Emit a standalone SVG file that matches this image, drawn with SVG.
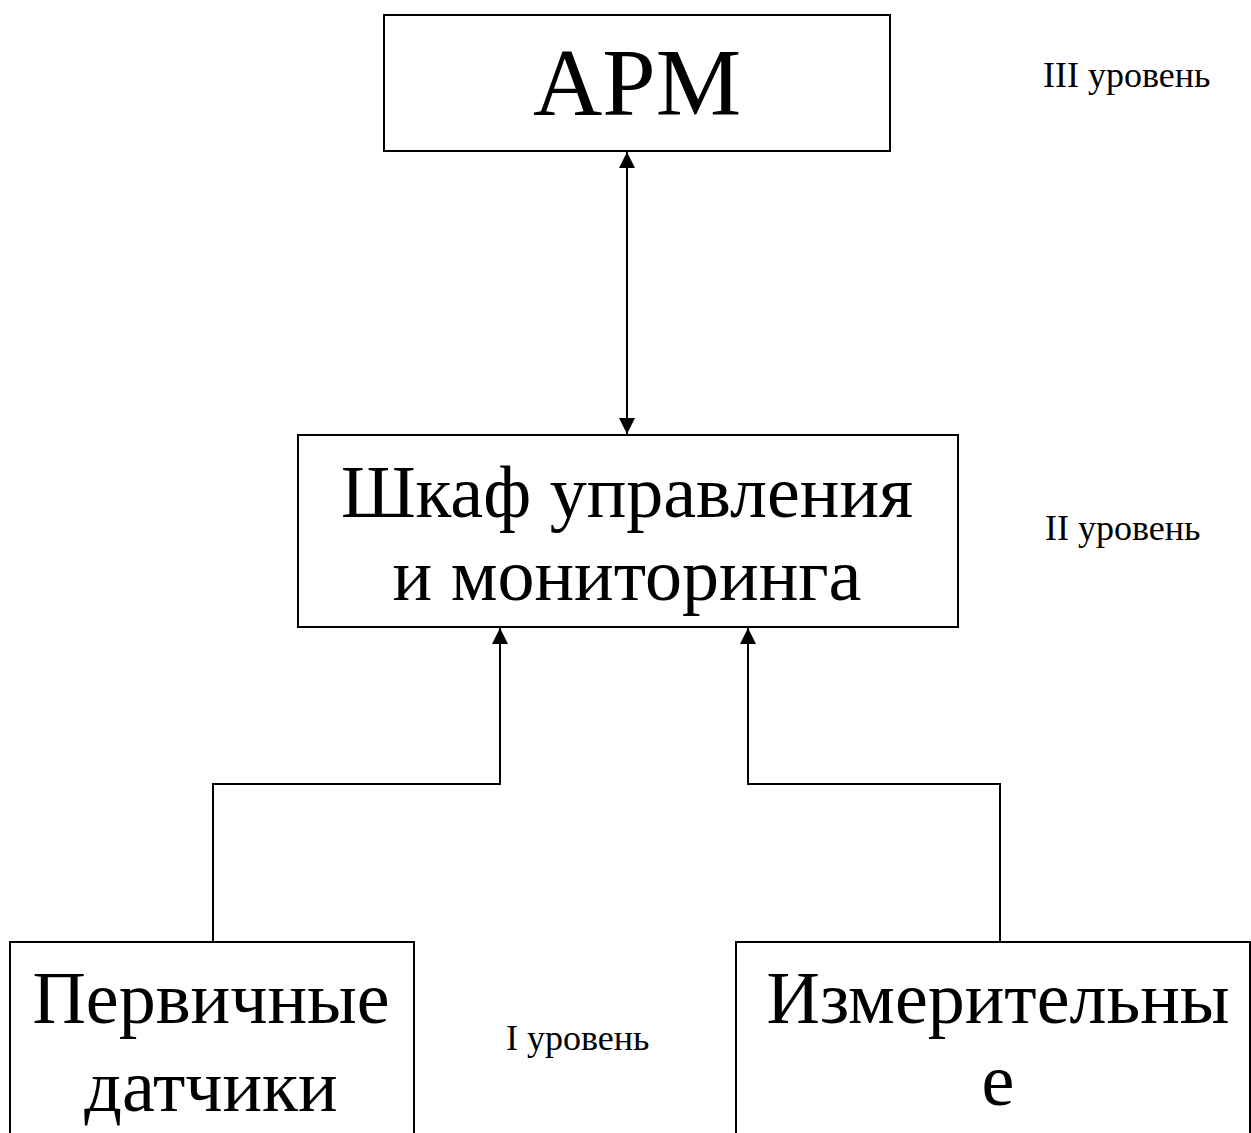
<svg xmlns="http://www.w3.org/2000/svg" width="1251" height="1133" viewBox="0 0 1251 1133">
<defs>
<style>
.box{fill:#fff;stroke:#000;stroke-width:2}
.t{font-family:"Liberation Serif","Times New Roman",serif;fill:#000;text-anchor:middle}
.big{font-size:74px}
.lvl{font-family:"Liberation Serif","Times New Roman",serif;fill:#000;font-size:36px}
.c{fill:none;stroke:#000;stroke-width:2}
</style>
<marker id="ah" viewBox="0 0 16 16" refX="16" refY="8" markerWidth="16" markerHeight="16" markerUnits="userSpaceOnUse" orient="auto-start-reverse">
<path d="M0,0 L16,8 L0,16 Z" fill="#000"/>
</marker>
</defs>
<rect width="1251" height="1133" fill="#fff"/>
<g id="connectors">
<line class="c" x1="627" y1="152" x2="627" y2="434" marker-start="url(#ah)" marker-end="url(#ah)"/>
<polyline class="c" points="213,942 213,784 500,784 500,628" marker-end="url(#ah)"/>
<polyline class="c" points="1000,942 1000,784 748,784 748,628" marker-end="url(#ah)"/>
</g>
<g id="arm">
<rect class="box" x="384" y="15" width="506" height="136"/>
<text class="t" x="637" y="115" font-size="96">АРМ</text>
</g>
<g id="shkaf">
<rect class="box" x="298" y="435" width="660" height="192"/>
<text class="t big" x="627" y="517">Шкаф управления</text>
<text class="t big" x="627" y="600">и мониторинга</text>
</g>
<g id="pervichnye">
<rect class="box" x="10" y="942" width="404" height="200"/>
<text class="t big" x="211" y="1023">Первичные</text>
<text class="t big" x="211" y="1111">датчики</text>
</g>
<g id="izmer">
<rect class="box" x="736" y="942" width="514" height="200"/>
<text class="t big" x="998" y="1023">Измерительны</text>
<text class="t big" x="998" y="1105">е</text>
</g>
<g id="levels">
<text class="lvl" x="1043" y="87">III уровень</text>
<text class="lvl" x="1045" y="540">II уровень</text>
<text class="lvl" x="506" y="1050">I уровень</text>
</g>
</svg>
